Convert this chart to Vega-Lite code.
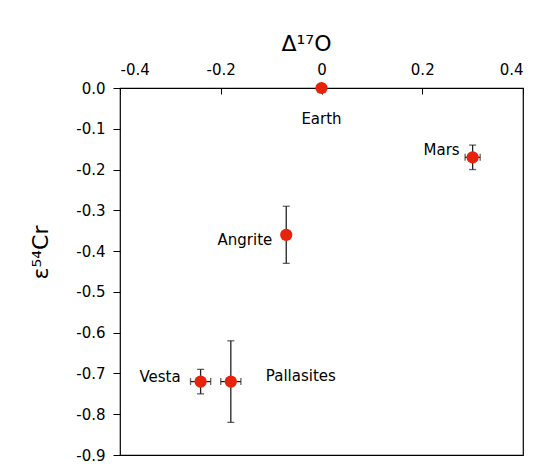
{
  "$schema": "https://vega.github.io/schema/vega-lite/v6.json",
  "width": 403,
  "height": 367,
  "autosize": {"type": "none"},
  "padding": {"left": 120, "top": 88, "right": 16, "bottom": 15},
  "background": "white",
  "config": {
    "view": {"stroke": "#000", "strokeWidth": 1.2},
    "font": "DejaVu Sans",
    "axis": {
      "grid": false,
      "domain": false,
      "labelFont": "DejaVu Sans",
      "labelFontSize": 15,
      "labelColor": "#000",
      "tickColor": "#000",
      "tickWidth": 1,
      "titleFont": "DejaVu Sans",
      "titleColor": "#000",
      "titleFontWeight": "normal",
      "titleFontSize": 22
    },
    "text": {"font": "DejaVu Sans", "fontSize": 15, "color": "#000"}
  },
  "data": {
    "values": [
      {"name": "Earth", "x": 0, "y": 0},
      {"name": "Mars", "x": 0.30, "y": -0.17, "ylo": -0.20, "yhi": -0.14, "xlo": 0.285, "xhi": 0.315},
      {"name": "Angrite", "x": -0.07, "y": -0.36, "ylo": -0.43, "yhi": -0.29},
      {"name": "Vesta", "x": -0.24, "y": -0.72, "ylo": -0.75, "yhi": -0.69, "xlo": -0.26, "xhi": -0.22},
      {"name": "Pallasites", "x": -0.18, "y": -0.72, "ylo": -0.82, "yhi": -0.62, "xlo": -0.20, "xhi": -0.16}
    ]
  },
  "layer": [
    {
      "transform": [{"filter": "isValid(datum.ylo)"}],
      "mark": {"type": "rule", "color": "#222", "strokeWidth": 1.3},
      "encoding": {
        "x": {"field": "x", "type": "quantitative", "scale": {"domain": [-0.4, 0.4], "nice": false, "zero": false},
          "axis": {"orient": "top", "values": [-0.4, -0.2, 0, 0.2, 0.4], "tickSize": -6, "labelPadding": 17,
            "labelExpr": "replace(format(datum.value, '.1~f'), '\u2212', '-')",
            "title": "Δ¹⁷O", "titleX": 186, "titleY": -38, "titleAlign": "center", "titleBaseline": "alphabetic"}},
        "y": {"field": "ylo", "type": "quantitative", "scale": {"domain": [-0.9, 0], "nice": false, "zero": false},
          "axis": {"values": [0, -0.1, -0.2, -0.3, -0.4, -0.5, -0.6, -0.7, -0.8, -0.9], "tickSize": 7, "labelPadding": 8,
            "labelExpr": "replace(format(datum.value, '.1f'), '\u2212', '-')",
            "title": "ε⁵⁴Cr", "titleX": -73, "titleY": 164, "titleAngle": -90, "titleAlign": "center", "titleBaseline": "alphabetic"}},
        "y2": {"field": "yhi"}
      }
    },
    {
      "transform": [{"filter": "isValid(datum.ylo)"}],
      "mark": {"type": "tick", "orient": "horizontal", "size": 7, "thickness": 1.3, "color": "#222"},
      "encoding": {
        "x": {"field": "x", "type": "quantitative", "scale": {"domain": [-0.4, 0.4], "nice": false, "zero": false},
          "axis": {"orient": "top", "values": [-0.4, -0.2, 0, 0.2, 0.4], "tickSize": -6, "labelPadding": 17,
            "labelExpr": "replace(format(datum.value, '.1~f'), '\u2212', '-')",
            "title": "Δ¹⁷O", "titleX": 186, "titleY": -38, "titleAlign": "center", "titleBaseline": "alphabetic"}},
        "y": {"field": "ylo", "type": "quantitative", "scale": {"domain": [-0.9, 0], "nice": false, "zero": false},
          "axis": {"values": [0, -0.1, -0.2, -0.3, -0.4, -0.5, -0.6, -0.7, -0.8, -0.9], "tickSize": 7, "labelPadding": 8,
            "labelExpr": "replace(format(datum.value, '.1f'), '\u2212', '-')",
            "title": "ε⁵⁴Cr", "titleX": -73, "titleY": 164, "titleAngle": -90, "titleAlign": "center", "titleBaseline": "alphabetic"}}
      }
    },
    {
      "transform": [{"filter": "isValid(datum.yhi)"}],
      "mark": {"type": "tick", "orient": "horizontal", "size": 7, "thickness": 1.3, "color": "#222"},
      "encoding": {
        "x": {"field": "x", "type": "quantitative", "scale": {"domain": [-0.4, 0.4], "nice": false, "zero": false},
          "axis": {"orient": "top", "values": [-0.4, -0.2, 0, 0.2, 0.4], "tickSize": -6, "labelPadding": 17,
            "labelExpr": "replace(format(datum.value, '.1~f'), '\u2212', '-')",
            "title": "Δ¹⁷O", "titleX": 186, "titleY": -38, "titleAlign": "center", "titleBaseline": "alphabetic"}},
        "y": {"field": "yhi", "type": "quantitative", "scale": {"domain": [-0.9, 0], "nice": false, "zero": false},
          "axis": {"values": [0, -0.1, -0.2, -0.3, -0.4, -0.5, -0.6, -0.7, -0.8, -0.9], "tickSize": 7, "labelPadding": 8,
            "labelExpr": "replace(format(datum.value, '.1f'), '\u2212', '-')",
            "title": "ε⁵⁴Cr", "titleX": -73, "titleY": 164, "titleAngle": -90, "titleAlign": "center", "titleBaseline": "alphabetic"}}
      }
    },
    {
      "transform": [{"filter": "isValid(datum.xlo)"}],
      "mark": {"type": "rule", "color": "#222", "strokeWidth": 1.3},
      "encoding": {
        "x": {"field": "xlo", "type": "quantitative", "scale": {"domain": [-0.4, 0.4], "nice": false, "zero": false},
          "axis": {"orient": "top", "values": [-0.4, -0.2, 0, 0.2, 0.4], "tickSize": -6, "labelPadding": 17,
            "labelExpr": "replace(format(datum.value, '.1~f'), '\u2212', '-')",
            "title": "Δ¹⁷O", "titleX": 186, "titleY": -38, "titleAlign": "center", "titleBaseline": "alphabetic"}},
        "x2": {"field": "xhi"},
        "y": {"field": "y", "type": "quantitative", "scale": {"domain": [-0.9, 0], "nice": false, "zero": false},
          "axis": {"values": [0, -0.1, -0.2, -0.3, -0.4, -0.5, -0.6, -0.7, -0.8, -0.9], "tickSize": 7, "labelPadding": 8,
            "labelExpr": "replace(format(datum.value, '.1f'), '\u2212', '-')",
            "title": "ε⁵⁴Cr", "titleX": -73, "titleY": 164, "titleAngle": -90, "titleAlign": "center", "titleBaseline": "alphabetic"}}
      }
    },
    {
      "transform": [{"filter": "isValid(datum.xlo)"}],
      "mark": {"type": "tick", "orient": "vertical", "size": 7, "thickness": 1.3, "color": "#222"},
      "encoding": {
        "x": {"field": "xlo", "type": "quantitative", "scale": {"domain": [-0.4, 0.4], "nice": false, "zero": false},
          "axis": {"orient": "top", "values": [-0.4, -0.2, 0, 0.2, 0.4], "tickSize": -6, "labelPadding": 17,
            "labelExpr": "replace(format(datum.value, '.1~f'), '\u2212', '-')",
            "title": "Δ¹⁷O", "titleX": 186, "titleY": -38, "titleAlign": "center", "titleBaseline": "alphabetic"}},
        "y": {"field": "y", "type": "quantitative", "scale": {"domain": [-0.9, 0], "nice": false, "zero": false},
          "axis": {"values": [0, -0.1, -0.2, -0.3, -0.4, -0.5, -0.6, -0.7, -0.8, -0.9], "tickSize": 7, "labelPadding": 8,
            "labelExpr": "replace(format(datum.value, '.1f'), '\u2212', '-')",
            "title": "ε⁵⁴Cr", "titleX": -73, "titleY": 164, "titleAngle": -90, "titleAlign": "center", "titleBaseline": "alphabetic"}}
      }
    },
    {
      "transform": [{"filter": "isValid(datum.xhi)"}],
      "mark": {"type": "tick", "orient": "vertical", "size": 7, "thickness": 1.3, "color": "#222"},
      "encoding": {
        "x": {"field": "xhi", "type": "quantitative", "scale": {"domain": [-0.4, 0.4], "nice": false, "zero": false},
          "axis": {"orient": "top", "values": [-0.4, -0.2, 0, 0.2, 0.4], "tickSize": -6, "labelPadding": 17,
            "labelExpr": "replace(format(datum.value, '.1~f'), '\u2212', '-')",
            "title": "Δ¹⁷O", "titleX": 186, "titleY": -38, "titleAlign": "center", "titleBaseline": "alphabetic"}},
        "y": {"field": "y", "type": "quantitative", "scale": {"domain": [-0.9, 0], "nice": false, "zero": false},
          "axis": {"values": [0, -0.1, -0.2, -0.3, -0.4, -0.5, -0.6, -0.7, -0.8, -0.9], "tickSize": 7, "labelPadding": 8,
            "labelExpr": "replace(format(datum.value, '.1f'), '\u2212', '-')",
            "title": "ε⁵⁴Cr", "titleX": -73, "titleY": 164, "titleAngle": -90, "titleAlign": "center", "titleBaseline": "alphabetic"}}
      }
    },
    {
      "mark": {"type": "circle", "size": 150, "color": "#e8230c", "opacity": 1},
      "encoding": {
        "x": {"field": "x", "type": "quantitative", "scale": {"domain": [-0.4, 0.4], "nice": false, "zero": false},
          "axis": {"orient": "top", "values": [-0.4, -0.2, 0, 0.2, 0.4], "tickSize": -6, "labelPadding": 17,
            "labelExpr": "replace(format(datum.value, '.1~f'), '\u2212', '-')",
            "title": "Δ¹⁷O", "titleX": 186, "titleY": -38, "titleAlign": "center", "titleBaseline": "alphabetic"}},
        "y": {"field": "y", "type": "quantitative", "scale": {"domain": [-0.9, 0], "nice": false, "zero": false},
          "axis": {"values": [0, -0.1, -0.2, -0.3, -0.4, -0.5, -0.6, -0.7, -0.8, -0.9], "tickSize": 7, "labelPadding": 8,
            "labelExpr": "replace(format(datum.value, '.1f'), '\u2212', '-')",
            "title": "ε⁵⁴Cr", "titleX": -73, "titleY": 164, "titleAngle": -90, "titleAlign": "center", "titleBaseline": "alphabetic"}}
      }
    },
    {
      "mark": {"type": "text", "align": "right", "baseline": "middle", "dx": -13, "dy": -7},
      "transform": [{"filter": "datum.name == 'Mars'"}],
      "encoding": {
        "x": {"field": "x", "type": "quantitative", "scale": {"domain": [-0.4, 0.4], "nice": false, "zero": false},
          "axis": {"orient": "top", "values": [-0.4, -0.2, 0, 0.2, 0.4], "tickSize": -6, "labelPadding": 17,
            "labelExpr": "replace(format(datum.value, '.1~f'), '\u2212', '-')",
            "title": "Δ¹⁷O", "titleX": 186, "titleY": -38, "titleAlign": "center", "titleBaseline": "alphabetic"}},
        "y": {"field": "y", "type": "quantitative", "scale": {"domain": [-0.9, 0], "nice": false, "zero": false},
          "axis": {"values": [0, -0.1, -0.2, -0.3, -0.4, -0.5, -0.6, -0.7, -0.8, -0.9], "tickSize": 7, "labelPadding": 8,
            "labelExpr": "replace(format(datum.value, '.1f'), '\u2212', '-')",
            "title": "ε⁵⁴Cr", "titleX": -73, "titleY": 164, "titleAngle": -90, "titleAlign": "center", "titleBaseline": "alphabetic"}},
        "text": {"field": "name"}
      }
    },
    {
      "mark": {"type": "text", "align": "right", "baseline": "middle", "dx": -14, "dy": 5},
      "transform": [{"filter": "datum.name == 'Angrite'"}],
      "encoding": {
        "x": {"field": "x", "type": "quantitative", "scale": {"domain": [-0.4, 0.4], "nice": false, "zero": false},
          "axis": {"orient": "top", "values": [-0.4, -0.2, 0, 0.2, 0.4], "tickSize": -6, "labelPadding": 17,
            "labelExpr": "replace(format(datum.value, '.1~f'), '\u2212', '-')",
            "title": "Δ¹⁷O", "titleX": 186, "titleY": -38, "titleAlign": "center", "titleBaseline": "alphabetic"}},
        "y": {"field": "y", "type": "quantitative", "scale": {"domain": [-0.9, 0], "nice": false, "zero": false},
          "axis": {"values": [0, -0.1, -0.2, -0.3, -0.4, -0.5, -0.6, -0.7, -0.8, -0.9], "tickSize": 7, "labelPadding": 8,
            "labelExpr": "replace(format(datum.value, '.1f'), '\u2212', '-')",
            "title": "ε⁵⁴Cr", "titleX": -73, "titleY": 164, "titleAngle": -90, "titleAlign": "center", "titleBaseline": "alphabetic"}},
        "text": {"field": "name"}
      }
    },
    {
      "mark": {"type": "text", "align": "right", "baseline": "middle", "dx": -20, "dy": -5},
      "transform": [{"filter": "datum.name == 'Vesta'"}],
      "encoding": {
        "x": {"field": "x", "type": "quantitative", "scale": {"domain": [-0.4, 0.4], "nice": false, "zero": false},
          "axis": {"orient": "top", "values": [-0.4, -0.2, 0, 0.2, 0.4], "tickSize": -6, "labelPadding": 17,
            "labelExpr": "replace(format(datum.value, '.1~f'), '\u2212', '-')",
            "title": "Δ¹⁷O", "titleX": 186, "titleY": -38, "titleAlign": "center", "titleBaseline": "alphabetic"}},
        "y": {"field": "y", "type": "quantitative", "scale": {"domain": [-0.9, 0], "nice": false, "zero": false},
          "axis": {"values": [0, -0.1, -0.2, -0.3, -0.4, -0.5, -0.6, -0.7, -0.8, -0.9], "tickSize": 7, "labelPadding": 8,
            "labelExpr": "replace(format(datum.value, '.1f'), '\u2212', '-')",
            "title": "ε⁵⁴Cr", "titleX": -73, "titleY": 164, "titleAngle": -90, "titleAlign": "center", "titleBaseline": "alphabetic"}},
        "text": {"field": "name"}
      }
    },
    {
      "mark": {"type": "text", "align": "center", "baseline": "middle", "dy": 31},
      "transform": [{"filter": "datum.name == 'Earth'"}],
      "encoding": {
        "x": {"field": "x", "type": "quantitative", "scale": {"domain": [-0.4, 0.4], "nice": false, "zero": false},
          "axis": {"orient": "top", "values": [-0.4, -0.2, 0, 0.2, 0.4], "tickSize": -6, "labelPadding": 17,
            "labelExpr": "replace(format(datum.value, '.1~f'), '\u2212', '-')",
            "title": "Δ¹⁷O", "titleX": 186, "titleY": -38, "titleAlign": "center", "titleBaseline": "alphabetic"}},
        "y": {"field": "y", "type": "quantitative", "scale": {"domain": [-0.9, 0], "nice": false, "zero": false},
          "axis": {"values": [0, -0.1, -0.2, -0.3, -0.4, -0.5, -0.6, -0.7, -0.8, -0.9], "tickSize": 7, "labelPadding": 8,
            "labelExpr": "replace(format(datum.value, '.1f'), '\u2212', '-')",
            "title": "ε⁵⁴Cr", "titleX": -73, "titleY": 164, "titleAngle": -90, "titleAlign": "center", "titleBaseline": "alphabetic"}},
        "text": {"field": "name"}
      }
    },
    {
      "mark": {"type": "text", "align": "left", "baseline": "middle", "dx": 35, "dy": -6},
      "transform": [{"filter": "datum.name == 'Pallasites'"}],
      "encoding": {
        "x": {"field": "x", "type": "quantitative", "scale": {"domain": [-0.4, 0.4], "nice": false, "zero": false},
          "axis": {"orient": "top", "values": [-0.4, -0.2, 0, 0.2, 0.4], "tickSize": -6, "labelPadding": 17,
            "labelExpr": "replace(format(datum.value, '.1~f'), '\u2212', '-')",
            "title": "Δ¹⁷O", "titleX": 186, "titleY": -38, "titleAlign": "center", "titleBaseline": "alphabetic"}},
        "y": {"field": "y", "type": "quantitative", "scale": {"domain": [-0.9, 0], "nice": false, "zero": false},
          "axis": {"values": [0, -0.1, -0.2, -0.3, -0.4, -0.5, -0.6, -0.7, -0.8, -0.9], "tickSize": 7, "labelPadding": 8,
            "labelExpr": "replace(format(datum.value, '.1f'), '\u2212', '-')",
            "title": "ε⁵⁴Cr", "titleX": -73, "titleY": 164, "titleAngle": -90, "titleAlign": "center", "titleBaseline": "alphabetic"}},
        "text": {"field": "name"}
      }
    }
  ]
}
